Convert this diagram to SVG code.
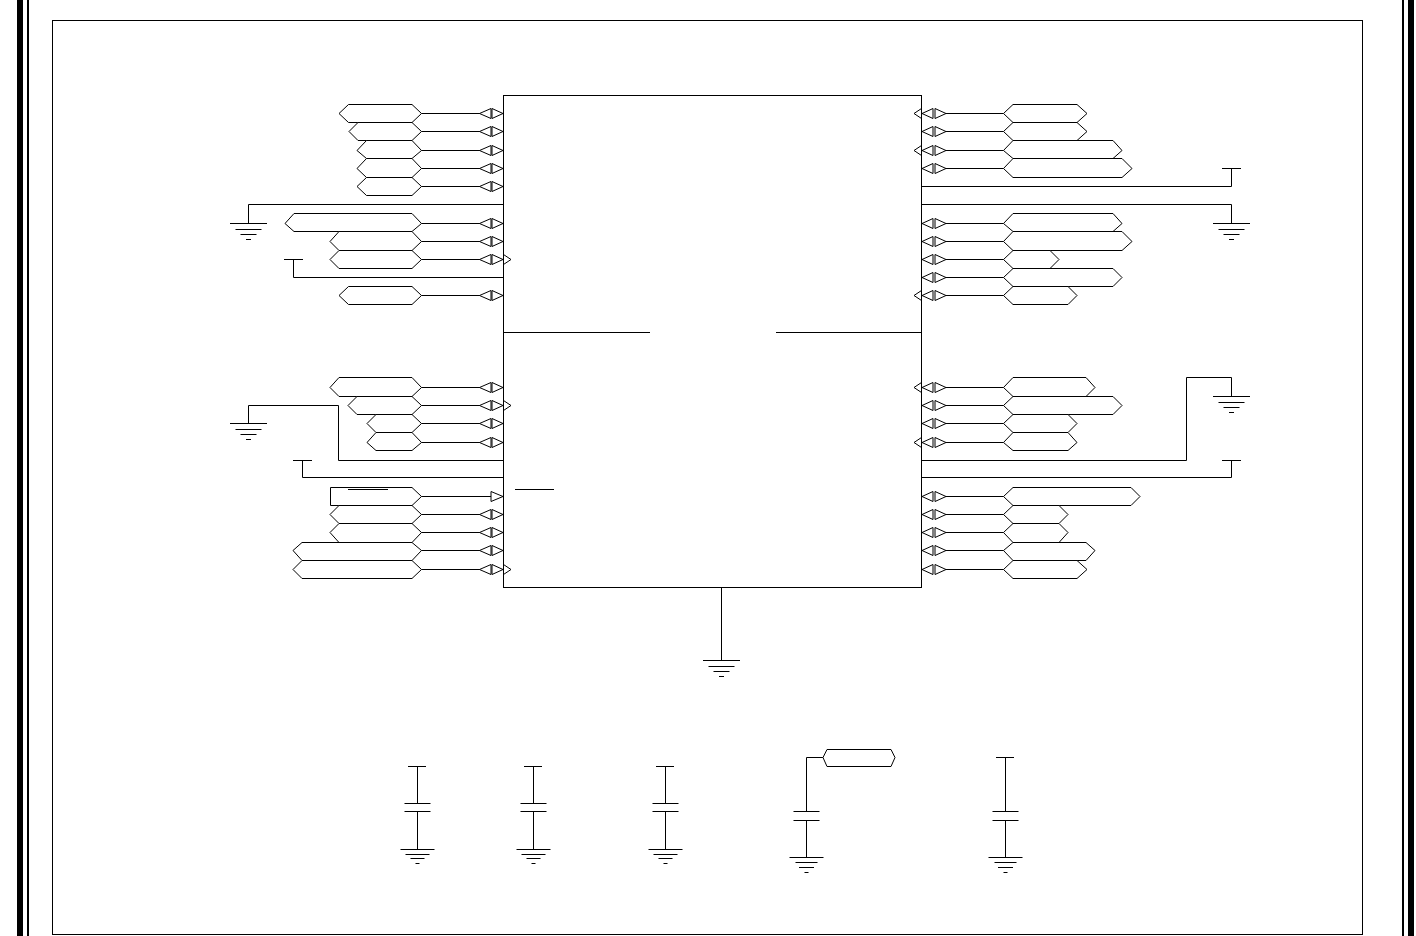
<svg xmlns="http://www.w3.org/2000/svg" width="1416" height="936" viewBox="0 0 1416 936">
<style>
.s{fill:none;stroke:#000;stroke-width:1}
.h{fill:#fff;stroke:#000;stroke-width:1;stroke-linejoin:miter}
.t{fill:#fff;stroke:#000;stroke-width:1}
</style>
<defs>
<g id="pl"><path class="s" d="M421.500 0H480"/><path class="t" d="M479.500 0L491 -5V5Z"/><path class="t" d="M492 -5L503 0L492 5Z"/></g>
<g id="pr"><path class="s" d="M946 0H1003.500"/><path class="t" d="M922 0L933 -5V5Z"/><path class="t" d="M935 -5L946 0L935 5Z"/></g>
<path id="cl" class="s" d="M503.500 -5L511 0L503.500 5"/>
<path id="cr" class="s" d="M921.500 -5L914 0L921.500 5"/>
<path id="gnd" class="s" d="M-18.500 0H18.500M-13 6H13M-8 11H8M-2.500 16H2.500"/>
<path id="gnd2" class="s" d="M-17 0H17M-12 5H12M-7 9H7M-2 14H2"/>
<path id="gnd3" class="s" d="M-17 0H17M-11 5H11M-7.500 10H7.500M-2 15H2"/>
<g id="capa"><path class="s" d="M-13 0H13M-13 8H13M0 8V46"/><use href="#gnd2" y="46"/></g>
<g id="capb"><path class="s" d="M-13 0H13M-13 9H13M0 9V46"/><use href="#gnd3" y="46"/></g>
</defs>
<rect width="1416" height="936" fill="#fff"/>
<g id="frame">
<rect x="17" y="0" width="6" height="936" fill="#000"/>
<rect x="27" y="0" width="2" height="936" fill="#000"/>
<rect x="1402" y="0" width="2" height="936" fill="#000"/>
<rect x="1408" y="0" width="6" height="936" fill="#000"/>
<rect class="s" x="52.500" y="20.500" width="1310" height="914"/>
</g>
<g id="ic">
<rect class="s" x="503.500" y="95.500" width="418" height="492"/>
<path class="s" d="M503.500 332.500H650M776 332.500H921.500"/>
<path class="s" d="M515 489.500H554"/>
</g>
<g id="connectors">
<path class="s" d="M503.500 204.500H248.500V223.500"/>
<path class="s" d="M921.500 204.500H1231.500V223.500"/>
<path class="s" d="M921.500 186.500H1231.500V168.500M1222 168.500H1241"/>
<path class="s" d="M503.500 277.500H293.500V259.500M284 259.500H303"/>
<path class="s" d="M503.500 460.500H338.500V405.500H248.500V423.500"/>
<path class="s" d="M503.500 477.500H302.500V460.500M293 460.500H312"/>
<path class="s" d="M921.500 460.500H1186.500V377.500H1231.500V396.500"/>
<path class="s" d="M921.500 477.500H1231.500V460.500M1222 460.500H1241"/>
<path class="s" d="M721.500 587.500V660.500"/>
<path class="s" d="M417.500 766.500V803.500M408 766.500H426"/>
<path class="s" d="M533.500 766.500V803.500M524 766.500H542"/>
<path class="s" d="M665.500 766.500V803.500M656 766.500H674"/>
<path class="s" d="M823 757.500H806.500V811.500"/>
<path class="s" d="M1005.500 757.500V811.500M996 757.500H1014"/>
</g>
<g id="gnd-left-top"><use href="#gnd" x="248.500" y="223.500"/></g>
<g id="gnd-right-top"><use href="#gnd" x="1231.500" y="223.500"/></g>
<g id="gnd-left-low"><use href="#gnd" x="248.500" y="423.500"/></g>
<g id="gnd-right-low"><use href="#gnd" x="1231.500" y="396.500"/></g>
<g id="gnd-bottom"><use href="#gnd" x="721.500" y="660.500"/></g>
<g id="c1"><use href="#capa" x="417.500" y="803.500"/></g>
<g id="c2"><use href="#capa" x="533.500" y="803.500"/></g>
<g id="c3"><use href="#capa" x="665.500" y="803.500"/></g>
<g id="c4"><use href="#capb" x="806.500" y="811.500"/></g>
<g id="c5"><use href="#capb" x="1005.500" y="811.500"/></g>
<g id="p-cap"><polygon class="h" points="823,757.500 827,749.500 891,749.500 895,757.500 891,766.500 827,766.500"/></g>

<g id="l1" transform="translate(0,113.500)"><polygon class="h" points="339,0 348.500,-9 412,-9 421.500,0 412,9 348.500,9"/><use href="#pl"/></g>
<g id="l2" transform="translate(0,131.500)"><polygon class="h" points="349,0 358,-9 412,-9 421.500,0 412,9 358,9"/><use href="#pl"/></g>
<g id="l3" transform="translate(0,150.500)"><polygon class="h" points="357,0 366.500,-10 412,-10 421.500,0 412,8 366.500,8"/><use href="#pl"/></g>
<g id="l4" transform="translate(0,168.500)"><polygon class="h" points="357,0 366.500,-10 412,-10 421.500,0 412,9 366.500,9"/><use href="#pl"/></g>
<g id="l5" transform="translate(0,186.500)"><polygon class="h" points="357,0 366.500,-9 412,-9 421.500,0 412,9 366.500,9"/><use href="#pl"/></g>
<g id="l6" transform="translate(0,223.500)"><polygon class="h" points="285,0 294,-10 412,-10 421.500,0 412,8 294,8"/><use href="#pl"/></g>
<g id="l7" transform="translate(0,241.500)"><polygon class="h" points="330,0 339,-10 412,-10 421.500,0 412,9 339,9"/><use href="#pl"/></g>
<g id="l8" transform="translate(0,259.500)"><polygon class="h" points="330,0 339,-9 412,-9 421.500,0 412,9 339,9"/><use href="#pl"/><use href="#cl"/></g>
<g id="l9" transform="translate(0,295.500)"><polygon class="h" points="339,0 348.500,-9 412,-9 421.500,0 412,9 348.500,9"/><use href="#pl"/></g>
<g id="l10" transform="translate(0,387.500)"><polygon class="h" points="330,0 339,-10 412,-10 421.500,0 412,9 339,9"/><use href="#pl"/></g>
<g id="l11" transform="translate(0,405.500)"><polygon class="h" points="348,0 357,-9 412,-9 421.500,0 412,9 357,9"/><use href="#pl"/><use href="#cl"/></g>
<g id="l12" transform="translate(0,423.500)"><polygon class="h" points="367,0 376,-9 412,-9 421.500,0 412,9 376,9"/><use href="#pl"/></g>
<g id="l13" transform="translate(0,442.500)"><polygon class="h" points="367,0 376,-10 412,-10 421.500,0 412,8 376,8"/><use href="#pl"/></g>
<g id="l14" transform="translate(0,496.500)"><polygon class="h" points="330.500,-9 412,-9 421.500,0 412,9 330.500,9"/><path class="s" d="M421.500 0H491"/><path class="t" d="M491 -5L503 0L491 5Z"/><path class="s" d="M348 -7H388"/></g>
<g id="l15" transform="translate(0,514.500)"><polygon class="h" points="330,0 339,-9 412,-9 421.500,0 412,9 339,9"/><use href="#pl"/></g>
<g id="l16" transform="translate(0,532.500)"><polygon class="h" points="330,0 339,-9 412,-9 421.500,0 412,10 339,10"/><use href="#pl"/></g>
<g id="l17" transform="translate(0,550.500)"><polygon class="h" points="293,0 302,-8 412,-8 421.500,0 412,10 302,10"/><use href="#pl"/></g>
<g id="l18" transform="translate(0,569.500)"><polygon class="h" points="293,0 302,-9 412,-9 421.500,0 412,9 302,9"/><use href="#pl"/><use href="#cl"/></g>

<g id="r1" transform="translate(0,113.500)"><polygon class="h" points="1003.500,0 1013,-9 1077,-9 1087,0 1077,9 1013,9"/><use href="#pr"/><use href="#cr"/></g>
<g id="r2" transform="translate(0,131.500)"><polygon class="h" points="1003.500,0 1013,-9 1077,-9 1087,0 1077,9 1013,9"/><use href="#pr"/></g>
<g id="r3" transform="translate(0,150.500)"><polygon class="h" points="1003.500,0 1013,-10 1113,-10 1122,0 1113,8 1013,8"/><use href="#pr"/><use href="#cr"/></g>
<g id="r4" transform="translate(0,168.500)"><polygon class="h" points="1003.500,0 1013,-10 1122,-10 1132,0 1122,9 1013,9"/><use href="#pr"/></g>
<g id="r5" transform="translate(0,223.500)"><polygon class="h" points="1003.500,0 1013,-10 1113,-10 1122,0 1113,8 1013,8"/><use href="#pr"/></g>
<g id="r6" transform="translate(0,241.500)"><polygon class="h" points="1003.500,0 1013,-10 1122,-10 1132,0 1122,9 1013,9"/><use href="#pr"/></g>
<g id="r7" transform="translate(0,259.500)"><polygon class="h" points="1003.500,0 1013,-9 1050,-9 1059,0 1050,9 1013,9"/><use href="#pr"/></g>
<g id="r8" transform="translate(0,277.500)"><polygon class="h" points="1003.500,0 1013,-9 1113,-9 1122,0 1113,9 1013,9"/><use href="#pr"/></g>
<g id="r9" transform="translate(0,295.500)"><polygon class="h" points="1003.500,0 1013,-9 1068,-9 1077,0 1068,9 1013,9"/><use href="#pr"/><use href="#cr"/></g>
<g id="r10" transform="translate(0,387.500)"><polygon class="h" points="1003.500,0 1013,-10 1086,-10 1095,0 1086,9 1013,9"/><use href="#pr"/><use href="#cr"/></g>
<g id="r11" transform="translate(0,405.500)"><polygon class="h" points="1003.500,0 1013,-9 1113,-9 1122,0 1113,9 1013,9"/><use href="#pr"/></g>
<g id="r12" transform="translate(0,423.500)"><polygon class="h" points="1003.500,0 1013,-9 1068,-9 1077,0 1068,9 1013,9"/><use href="#pr"/></g>
<g id="r13" transform="translate(0,442.500)"><polygon class="h" points="1003.500,0 1013,-10 1068,-10 1077,0 1068,8 1013,8"/><use href="#pr"/><use href="#cr"/></g>
<g id="r14" transform="translate(0,496.500)"><polygon class="h" points="1003.500,0 1013,-9 1131,-9 1140,0 1131,9 1013,9"/><use href="#pr"/></g>
<g id="r15" transform="translate(0,514.500)"><polygon class="h" points="1003.500,0 1013,-9 1059,-9 1068,0 1059,9 1013,9"/><use href="#pr"/></g>
<g id="r16" transform="translate(0,532.500)"><polygon class="h" points="1003.500,0 1013,-9 1059,-9 1068,0 1059,10 1013,10"/><use href="#pr"/></g>
<g id="r17" transform="translate(0,550.500)"><polygon class="h" points="1003.500,0 1013,-8 1086,-8 1095,0 1086,10 1013,10"/><use href="#pr"/></g>
<g id="r18" transform="translate(0,569.500)"><polygon class="h" points="1003.500,0 1013,-9 1077,-9 1087,0 1077,9 1013,9"/><use href="#pr"/></g>
</svg>
